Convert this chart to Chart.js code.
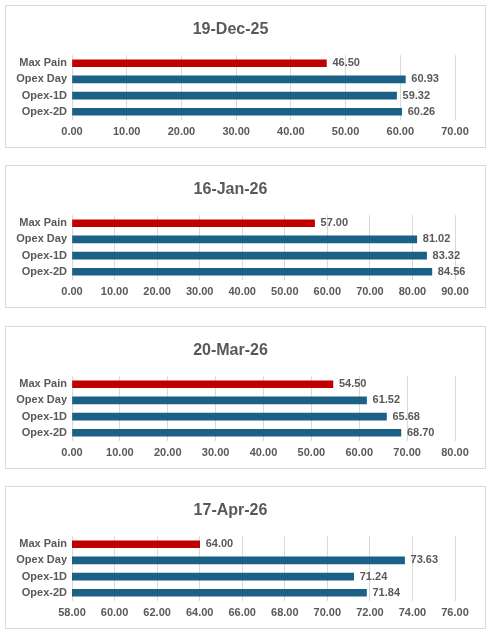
<!DOCTYPE html>
<html>
<head>
<meta charset="utf-8">
<script src="https://cdn.jsdelivr.net/npm/chart.js@4"></script>
<style>
  body { margin: 0; background: #fff; }
  .panel { position: absolute; left: 5px; width: 481px; height: 143px; border: 1px solid #d9d9d9; box-sizing: border-box; }
</style>
</head>
<body>
<div class="panel" style="top:5px"><canvas id="c0"></canvas></div>
<div class="panel" style="top:165px"><canvas id="c1"></canvas></div>
<div class="panel" style="top:326px"><canvas id="c2"></canvas></div>
<div class="panel" style="top:486px"><canvas id="c3"></canvas></div>
<script>
const categories = ["Max Pain", "Opex Day", "Opex-1D", "Opex-2D"];
const titles = ["19-Dec-25", "16-Jan-26", "20-Mar-26", "17-Apr-26"];
const dec25 = [46.50, 60.93, 59.32, 60.26];
const jan26 = [57.00, 81.02, 83.32, 84.56];
const mar26 = [54.50, 61.52, 65.68, 68.70];
const apr26 = [64.00, 73.63, 71.24, 71.84];
const axisMin = [0, 0, 0, 58];
const axisMax = [70, 90, 80, 76];
const axisStep = [10, 10, 10, 2];

const seriesList = [dec25, jan26, mar26, apr26];
const gray = "#595959";
const font = "'Liberation Sans', Arial, sans-serif";

// value labels at the end of each bar
const valueLabels = {
  id: "valueLabels",
  afterDatasetsDraw(chart) {
    const ctx = chart.ctx;
    const meta = chart.getDatasetMeta(0);
    ctx.save();
    ctx.font = "bold 11px " + font;
    ctx.fillStyle = gray;
    ctx.textBaseline = "middle";
    meta.data.forEach((bar, i) => {
      ctx.fillText(chart.data.datasets[0].data[i].toFixed(2), bar.x + 6, bar.y);
    });
    ctx.restore();
  }
};

seriesList.forEach((values, k) => {
  new Chart(document.getElementById("c" + k), {
    type: "bar",
    data: {
      labels: categories,
      datasets: [{
        data: values,
        backgroundColor: values.map((v, i) => i === 0 ? "#C00000" : "#1B6085"),
        barThickness: 7
      }]
    },
    options: {
      indexAxis: "y",
      responsive: true,
      maintainAspectRatio: false,
      animation: false,
      layout: { padding: { left: 0, right: 30, bottom: 2 } },
      plugins: {
        legend: { display: false },
        tooltip: { enabled: false },
        title: {
          display: true,
          text: titles[k],
          color: gray,
          font: { family: font, size: 16, weight: "bold" },
          padding: { top: 14, bottom: 16 }
        }
      },
      scales: {
        x: {
          min: axisMin[k],
          max: axisMax[k],
          ticks: {
            stepSize: axisStep[k],
            color: gray,
            font: { family: font, size: 11, weight: "bold" },
            padding: 6,
            callback: (v) => Number(v).toFixed(2)
          },
          grid: { color: "#d9d9d9", drawTicks: false },
          border: { display: false }
        },
        y: {
          afterFit(scale) { scale.width = 66; },
          ticks: {
            autoSkip: false,
            color: gray,
            font: { family: font, size: 11, weight: "bold" },
            padding: 5
          },
          grid: { display: false, drawTicks: false },
          border: { display: false }
        }
      }
    },
    plugins: [valueLabels]
  });
});
</script>
</body>
</html>
